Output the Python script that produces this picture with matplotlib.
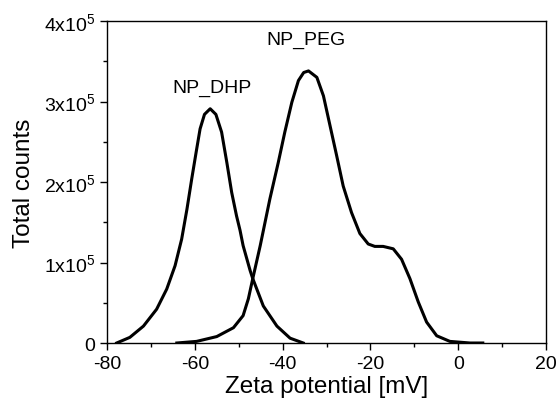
import matplotlib
matplotlib.use('Agg')
import matplotlib.pyplot as plt
from matplotlib.ticker import MultipleLocator, FixedLocator, FixedFormatter

plt.rcParams['font.family'] = ['Liberation Sans', 'DejaVu Sans']
plt.rcParams['mathtext.fontset'] = 'custom'
plt.rcParams['mathtext.rm'] = 'Liberation Sans'
plt.rcParams['axes.unicode_minus'] = False

# values (y in units of 1e5 counts)
dhp_x = [-77.8, -74.8, -71.7, -68.7, -66.4, -64.5, -63.0, -61.8, -60.7, -59.7,
         -58.8, -57.8, -56.5, -55.2, -53.9, -52.7, -51.6, -50.5, -49.7, -49.0,
         -47.4, -46.8, -44.4, -41.3, -38.3, -35.3]
dhp_y = [0.0, 0.07, 0.21, 0.42, 0.67, 0.96, 1.29, 1.66, 2.04, 2.37,
         2.66, 2.84, 2.91, 2.84, 2.62, 2.24, 1.87, 1.58, 1.40, 1.21,
         0.90, 0.80, 0.46, 0.21, 0.06, 0.0]

peg_x = [-64.1, -59.6, -55.0, -51.2, -49.0, -47.8, -46.8, -45.1, -42.9, -41.0,
         -39.5, -37.9, -36.4, -35.2, -34.1, -32.2, -30.7, -29.2, -27.7, -26.2,
         -24.3, -22.4, -20.5, -19.0, -17.1, -14.8, -12.9, -11.0, -9.1, -7.2,
         -4.9, -1.9, 2.7, 5.6]
peg_y = [0.0, 0.02, 0.08, 0.19, 0.34, 0.55, 0.80, 1.21, 1.79, 2.24,
         2.62, 2.99, 3.26, 3.36, 3.38, 3.30, 3.07, 2.70, 2.33, 1.95,
         1.62, 1.36, 1.23, 1.20, 1.20, 1.17, 1.04, 0.80, 0.51, 0.26,
         0.09, 0.02, 0.0, 0.0]

y_ticks = [0, 1, 2, 3, 4]
y_tick_labels = ['0', r'$\mathregular{1x10^5}$', r'$\mathregular{2x10^5}$',
                 r'$\mathregular{3x10^5}$', r'$\mathregular{4x10^5}$']

fig = plt.figure(figsize=(5.58, 4.06), dpi=100)
ax = fig.add_axes([0.1918, 0.1527, 0.7867, 0.7931])

ax.plot(dhp_x, dhp_y, color='black', lw=2.2, solid_joinstyle='round')
ax.plot(peg_x, peg_y, color='black', lw=2.2, solid_joinstyle='round')

ax.text(-56.0, 3.17, 'NP_DHP', ha='center', va='center', fontsize=14)
ax.text(-34.7, 3.77, 'NP_PEG', ha='center', va='center', fontsize=14)

ax.set_xlim(-80, 20)
ax.set_ylim(0, 4)
ax.xaxis.set_major_locator(MultipleLocator(20))
ax.xaxis.set_minor_locator(MultipleLocator(10))
ax.yaxis.set_major_locator(FixedLocator(y_ticks))
ax.yaxis.set_major_formatter(FixedFormatter(y_tick_labels))
ax.yaxis.set_minor_locator(MultipleLocator(0.5))

ax.tick_params(which='both', direction='out', labelsize=14, width=1)
ax.tick_params(which='major', length=5)
ax.tick_params(which='minor', length=3)
for sp in ax.spines.values():
    sp.set_linewidth(1)

ax.set_xlabel('Zeta potential [mV]', fontsize=17.5, labelpad=2)
ax.set_ylabel('Total counts', fontsize=17.5, labelpad=6)

fig.savefig('out.png', dpi=100)
